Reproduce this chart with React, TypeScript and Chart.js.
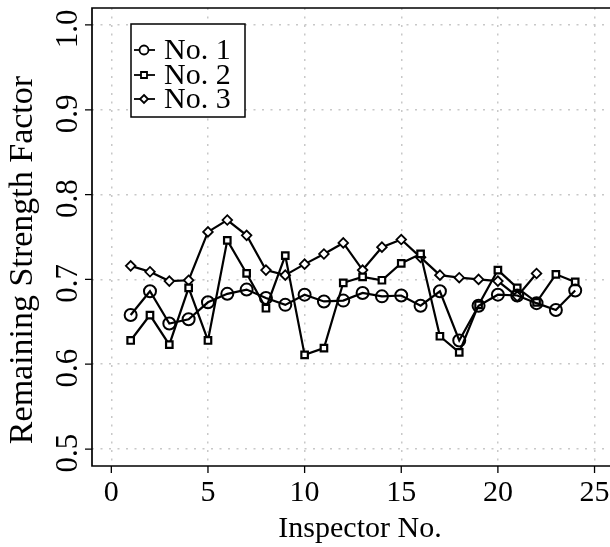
import React, { useEffect, useRef } from "react";
import { Chart, registerables } from "chart.js";

Chart.register(...registerables);

const inspectors = [1, 2, 3, 4, 5, 6, 7, 8, 9, 10, 11, 12, 13, 14, 15, 16, 17, 18, 19, 20, 21, 22, 23, 24];
const no1 = [0.658, 0.686, 0.648, 0.653, 0.673, 0.683, 0.688, 0.678, 0.670, 0.682, 0.674, 0.675, 0.684, 0.680, 0.681, 0.669, 0.686, 0.628, 0.669, 0.682, 0.681, 0.672, 0.664, 0.687];
const no2 = [0.628, 0.658, 0.623, 0.690, 0.628, 0.746, 0.707, 0.666, 0.728, 0.611, 0.619, 0.696, 0.703, 0.699, 0.719, 0.730, 0.633, 0.614, 0.670, 0.711, 0.690, 0.673, 0.706, 0.697];
const no3 = [0.716, 0.709, 0.698, 0.699, 0.756, 0.770, 0.752, 0.711, 0.705, 0.718, 0.730, 0.743, 0.711, 0.738, 0.747, 0.726, 0.705, 0.702, 0.700, 0.698, 0.680, 0.707];
const seriesNames = ["No. 1", "No. 2", "No. 3"];
const xTitle = "Inspector No.";
const yTitle = "Remaining Strength Factor";

const SERIF = '"Liberation Serif", "DejaVu Serif", "Times New Roman", serif';

const toPoints = (ys: number[]) => ys.map((y, i) => ({ x: inspectors[i], y }));

const framePlugin = {
  id: "rframe",
  afterDraw(chart: any) {
    const { ctx, chartArea: a, scales } = chart;
    const xs = scales.x;
    const ys = scales.y;
    ctx.save();
    ctx.strokeStyle = "#000";
    ctx.lineWidth = 1.7;
    ctx.setLineDash([]);
    // frame: left, top, bottom (right edge is cut off)
    ctx.beginPath();
    ctx.moveTo(a.right + 2, a.top);
    ctx.lineTo(a.left, a.top);
    ctx.lineTo(a.left, a.bottom);
    ctx.lineTo(a.right + 2, a.bottom);
    ctx.stroke();
    // ticks
    ctx.lineWidth = 1.3;
    ctx.beginPath();
    xs.ticks.forEach((t: any) => {
      const px = xs.getPixelForValue(t.value);
      ctx.moveTo(px, a.bottom);
      ctx.lineTo(px, a.bottom + 7);
    });
    ys.ticks.forEach((t: any) => {
      const py = ys.getPixelForValue(t.value);
      ctx.moveTo(a.left, py);
      ctx.lineTo(a.left - 7, py);
    });
    ctx.stroke();
    // x tick labels
    ctx.fillStyle = "#000";
    ctx.font = `30px ${SERIF}`;
    ctx.textAlign = "center";
    ctx.textBaseline = "alphabetic";
    xs.ticks.forEach((t: any) => {
      const px = xs.getPixelForValue(t.value);
      ctx.fillText(String(Math.round(t.value)), px, a.bottom + 35);
    });
    // x title
    ctx.fillText(xTitle, (a.left + a.right) / 2 + 9, a.bottom + 71);
    // y tick labels (rotated)
    ctx.font = `31px ${SERIF}`;
    ys.ticks.forEach((t: any) => {
      const py = ys.getPixelForValue(t.value);
      ctx.save();
      ctx.translate(a.left - 15, py + 4);
      ctx.rotate(-Math.PI / 2);
      ctx.fillText(t.value.toFixed(1), 0, 0);
      ctx.restore();
    });
    // y title
    ctx.save();
    ctx.font = `34px ${SERIF}`;
    ctx.translate(32, (a.top + a.bottom) / 2 + 23);
    ctx.rotate(-Math.PI / 2);
    ctx.fillText(yTitle, 0, 0);
    ctx.restore();

    // legend
    const bx = 131, by = 24, bw = 114, bh = 93;
    ctx.fillStyle = "#fff";
    ctx.fillRect(bx, by, bw, bh);
    ctx.strokeStyle = "#000";
    ctx.lineWidth = 1.5;
    ctx.strokeRect(bx, by, bw, bh);
    const rowsY = [50, 75, 99];
    chart.data.datasets.forEach((ds: any, i: number) => {
      const y = rowsY[i];
      ctx.lineWidth = 1.8;
      ctx.strokeStyle = "#000";
      ctx.beginPath();
      ctx.moveTo(134, y);
      ctx.lineTo(155, y);
      ctx.stroke();
      ctx.fillStyle = ds.pointBackgroundColor;
      ctx.beginPath();
      const cx = 144;
      if (ds.pointStyle === "circle") {
        ctx.arc(cx, y, 4.5, 0, Math.PI * 2);
        ctx.fillStyle = "#fff";
        ctx.fill();
        ctx.stroke();
      } else if (ds.pointStyle === "rect") {
        ctx.rect(cx - 3, y - 3, 6, 6);
        ctx.fill();
        ctx.stroke();
      } else {
        ctx.moveTo(cx, y - 4);
        ctx.lineTo(cx + 4, y);
        ctx.lineTo(cx, y + 4);
        ctx.lineTo(cx - 4, y);
        ctx.closePath();
        ctx.fill();
        ctx.stroke();
      }
      ctx.fillStyle = "#000";
      ctx.font = `30px ${SERIF}`;
      ctx.textAlign = "left";
      ctx.textBaseline = "middle";
      ctx.fillText(seriesNames[i], 164, y + 1);
    });
    ctx.restore();
  },
};

export default function App() {
  const ref = useRef<HTMLCanvasElement | null>(null);
  useEffect(() => {
    if (!ref.current) return;
    const common = {
      borderColor: "#000",
      borderWidth: 2.2,
      pointBorderColor: "#000",
      tension: 0,
      fill: false,
    };
    const chart = new Chart(ref.current, {
      type: "line",
      data: {
        datasets: [
          {
            ...common,
            label: seriesNames[0],
            data: toPoints(no1),
            pointStyle: "circle",
            pointRadius: 6,
            pointBorderWidth: 2,
            pointBackgroundColor: "rgba(255,255,255,0)",
          },
          {
            ...common,
            label: seriesNames[1],
            data: toPoints(no2),
            pointStyle: "rect",
            pointRadius: 4.6,
            pointBorderWidth: 2.2,
            pointBackgroundColor: "#fff",
          },
          {
            ...common,
            label: seriesNames[2],
            data: toPoints(no3),
            pointStyle: "rectRot",
            pointRadius: 4.8,
            pointBorderWidth: 1.8,
            pointBackgroundColor: "#fff",
          },
        ] as any,
      },
      options: {
        animation: false,
        responsive: false,
        devicePixelRatio: 1,
        layout: { padding: { left: 92, top: 8, right: 0, bottom: 81 }, autoPadding: false } as any,
        plugins: { legend: { display: false }, tooltip: { enabled: false } },
        scales: {
          x: {
            type: "linear",
            min: -1,
            max: 25.8,
            ticks: { display: false, stepSize: 5, includeBounds: false },
            grid: { drawTicks: false, color: "#c8c8c8", lineWidth: 1.5 },
            border: { display: false, dash: [2, 6.5] },
          },
          y: {
            type: "linear",
            min: 0.48,
            max: 1.02,
            ticks: { display: false, stepSize: 0.1, includeBounds: false },
            grid: { drawTicks: false, color: "#c8c8c8", lineWidth: 1.5 },
            border: { display: false, dash: [2, 6.5] },
          },
        },
      } as any,
      plugins: [framePlugin],
    });
    return () => chart.destroy();
  }, []);
  return (
    <div style={{ position: "absolute", left: 0, top: 0, width: 610, height: 547, background: "#fff" }}>
      <canvas ref={ref} width={610} height={547} style={{ display: "block" }} />
    </div>
  );
}
